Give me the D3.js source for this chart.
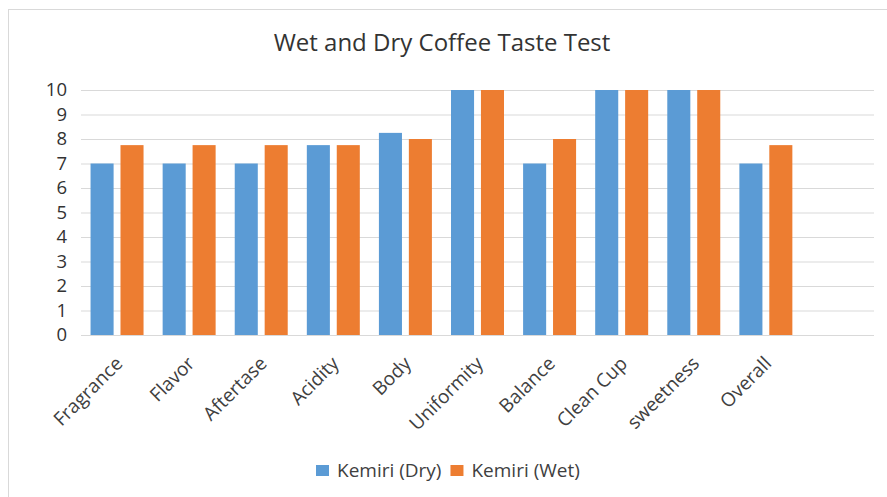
<!DOCTYPE html>
<html>
<head>
<meta charset="utf-8">
<script src="https://cdn.jsdelivr.net/npm/d3@7"></script>
<style>
  body { margin: 0; background: #fff; }
  svg { display: block; font-family: "Open Sans", "Lato", sans-serif; }
</style>
</head>
<body>
<script>
const categories = ['Fragrance', 'Flavor', 'Aftertase', 'Acidity', 'Body', 'Uniformity', 'Balance', 'Clean Cup', 'sweetness', 'Overall', ''];
const seriesNames = ['Kemiri (Dry)', 'Kemiri (Wet)'];
const dryValues = [7, 7, 7, 7.75, 8.25, 10, 7, 10, 10, 7];
const wetValues = [7.75, 7.75, 7.75, 7.75, 8, 10, 8, 10, 10, 7.75];
const yTicks = [0, 1, 2, 3, 4, 5, 6, 7, 8, 9, 10];

const colors = ['#5b9bd5', '#ed7d31'];
const w = 887, h = 497;
const plotLeft = 81, plotRight = 874, plotTop = 90, plotBottom = 335;

const svg = d3.select('body').append('svg').attr('width', w).attr('height', h);

// chart frame
svg.append('rect')
  .attr('x', 8.5).attr('y', 9.5)
  .attr('width', w - 4).attr('height', h - 6)
  .attr('fill', '#fff').attr('stroke', '#d9d9d9');

const x = d3.scaleBand().domain(categories).range([plotLeft, plotRight]).paddingInner(0.265).paddingOuter(0.1325);
const xs = d3.scaleBand().domain(seriesNames).range([0, x.bandwidth()]).paddingInner(0.23);
const y = d3.scaleLinear().domain([0, 10]).range([plotBottom, plotTop]);

// grid
const yAxis = d3.axisLeft(y).tickValues(yTicks).tickSize(-(plotRight - plotLeft)).tickPadding(14);
const gy = svg.append('g').attr('class', 'y-axis').attr('transform', `translate(${plotLeft},0)`).call(yAxis);
gy.select('.domain').remove();
gy.selectAll('.tick line').attr('stroke', '#d9d9d9');
gy.selectAll('.tick text').attr('font-size', 18.5).attr('fill', '#333').attr('font-family', '"Open Sans", sans-serif');

// bars
const rows = categories.filter(c => c !== '').map((c, i) => ({ cat: c, vals: [dryValues[i], wetValues[i]] }));
const groups = svg.append('g').selectAll('g').data(rows).enter()
  .append('g').attr('transform', d => `translate(${x(d.cat)},0)`);
groups.selectAll('rect')
  .data(d => d.vals.map((v, j) => ({ name: seriesNames[j], v, j })))
  .enter().append('rect')
  .attr('x', d => xs(d.name))
  .attr('width', xs.bandwidth())
  .attr('y', d => y(d.v))
  .attr('height', d => y(0) - y(d.v))
  .attr('fill', d => colors[d.j]);

// x axis labels
const xAxis = d3.axisBottom(x).tickSize(0).tickPadding(0);
const gx = svg.append('g').attr('class', 'x-axis').attr('transform', `translate(0,${plotBottom})`).call(xAxis);
gx.select('.domain').remove();
gx.selectAll('.tick text')
  .attr('font-size', 19)
  .attr('font-family', '"Open Sans", sans-serif')
  .attr('fill', '#404040')
  .attr('text-anchor', 'end')
  .attr('dy', '0.35em')
  .attr('transform', 'translate(2,25) rotate(-45)');

// title
svg.append('text')
  .attr('x', 442).attr('y', 51)
  .attr('text-anchor', 'middle')
  .attr('font-size', 24)
  .attr('fill', '#333')
  .text('Wet and Dry Coffee Taste Test');

// legend
const legend = svg.append('g').attr('transform', 'translate(316,461)');
let lx = 0;
seriesNames.forEach((name, i) => {
  legend.append('rect').attr('x', lx).attr('y', 4).attr('width', 13).attr('height', 11).attr('fill', colors[i]);
  const t = legend.append('text').attr('x', lx + 21).attr('y', 16)
    .attr('font-size', 19).attr('fill', '#404040').text(name);
  lx += 21 + t.node().getComputedTextLength() + 9;
});
</script>
</body>
</html>
